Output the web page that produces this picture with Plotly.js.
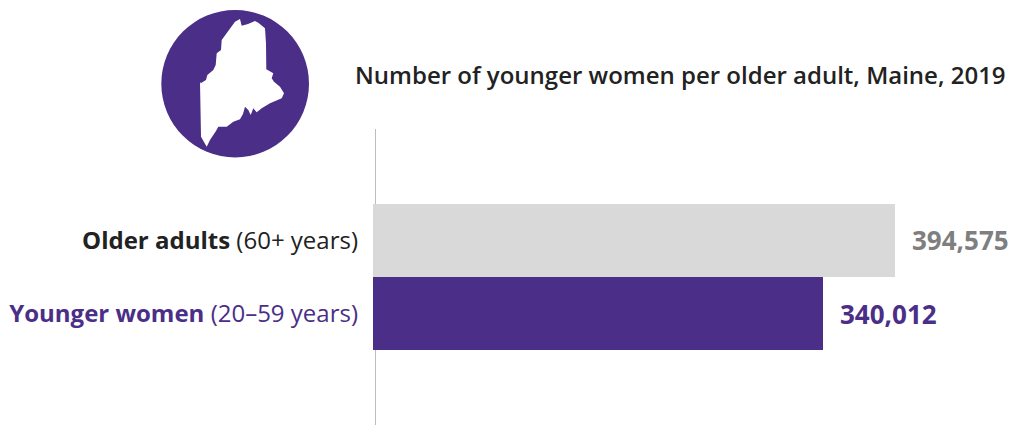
<!DOCTYPE html>
<html>
<head>
<meta charset="utf-8">
<script src="https://cdn.plot.ly/plotly-3.0.1.min.js"></script>
<style>html,body{margin:0;padding:0;background:#fff;overflow:hidden}</style>
</head>
<body>
<div id="chart" style="width:1009px;height:425px"></div>
<script>
const categories = ["Older adults", "Younger women"];
const ageRanges = ["(60+ years)", "(20–59 years)"];
const values = [394575, 340012];
const barColors = ["#d9d9d9", "#4b2e87"];
const labelColors = ["#222222", "#4b2e87"];
const valueColors = ["#7f7f7f", "#4b2e87"];
const chartTitle = "Number of younger women per older adult, Maine, 2019";

const W = 1009, H = 425, ML = 373, MT = 129;
const PW = W - ML, PH = H - MT;
const px = x => ((x - ML) / PW).toFixed(5);
const py = y => (1 - (y - MT) / PH).toFixed(5);

const mainePts = [[235,21.7],[240,19],[241.7,25.7],[248,24],[255,21],[258.3,22.7],[265,28.3],[266,43.3],[266.3,69.3],[273.3,73.3],[271.7,78.3],[274,81.7],[280,86.7],[284,93.3],[281.7,98.3],[270,103.3],[261.7,108.3],[256.7,112.3],[253.3,108.3],[250.7,115],[248.3,110],[245,106.7],[243,114],[240,119.3],[233.3,121.7],[226.7,126.7],[218.3,126.7],[216,131],[213.3,135],[210,140],[206.7,146.7],[201,136.7],[200,81.7],[200.7,83.3],[206,80],[207.3,75],[213.3,70],[215.7,65],[216.7,53.3],[221,50],[221.7,40]];
const mainePath = "M" + mainePts.map(p => px(p[0]) + "," + py(p[1])).join(" L") + " Z";

const xMax = PW / (522 / values[0]);

const layout = {
  width: W, height: H,
  margin: {l: ML, r: 0, t: MT, b: 0, pad: 0},
  paper_bgcolor: "#ffffff", plot_bgcolor: "#ffffff",
  font: {family: "'Open Sans', sans-serif"},
  showlegend: false,
  bargap: 0,
  title: {
    text: chartTitle,
    font: {family: "'Open Sans', sans-serif", size: 24, color: "#222222", weight: 600},
    xref: "container", yref: "container", x: 355 / W, xanchor: "left", y: 1 - 76 / H, yanchor: "middle"
  },
  xaxis: {range: [0, xMax], visible: false, fixedrange: true},
  yaxis: {
    type: "category", categoryorder: "array", categoryarray: categories,
    range: [2.527, -1.527], fixedrange: true,
    showline: false, showgrid: false, zeroline: false, ticks: "",
    ticklabelstandoff: 14,
    tickmode: "array", tickvals: categories,
    ticktext: categories.map((c, i) => `<span style="color:${labelColors[i]}"><b>${c}</b> ${ageRanges[i]}</span>`),
    tickfont: {family: "'Open Sans', sans-serif", size: 24, color: "#222222"}
  },
  shapes: [
    {type: "line", layer: "below", xref: "paper", yref: "paper", x0: px(375.5), x1: px(375.5), y0: 0, y1: 1, line: {color: "#bdbdbd", width: 1}},
    {type: "circle", xref: "paper", yref: "paper", x0: px(161.3), x1: px(309), y0: py(157.4), y1: py(10), fillcolor: "#4b2e87", line: {width: 0}},
    {type: "path", xref: "paper", yref: "paper", path: mainePath, fillcolor: "#ffffff", line: {width: 0}}
  ],
  annotations: values.map((v, i) => ({
    x: v, y: categories[i], xref: "x", yref: "y",
    text: "<b>" + v.toLocaleString("en-US") + "</b>",
    showarrow: false, xanchor: "left", yanchor: "middle", xshift: 15,
    font: {family: "'Open Sans', sans-serif", size: 26, color: valueColors[i]}
  }))
};

Plotly.newPlot("chart", [{
  type: "bar", orientation: "h",
  x: values, y: categories,
  marker: {color: barColors, line: {width: 0}},
  hoverinfo: "skip"
}], layout, {displayModeBar: false, staticPlot: true});
</script>
</body>
</html>
